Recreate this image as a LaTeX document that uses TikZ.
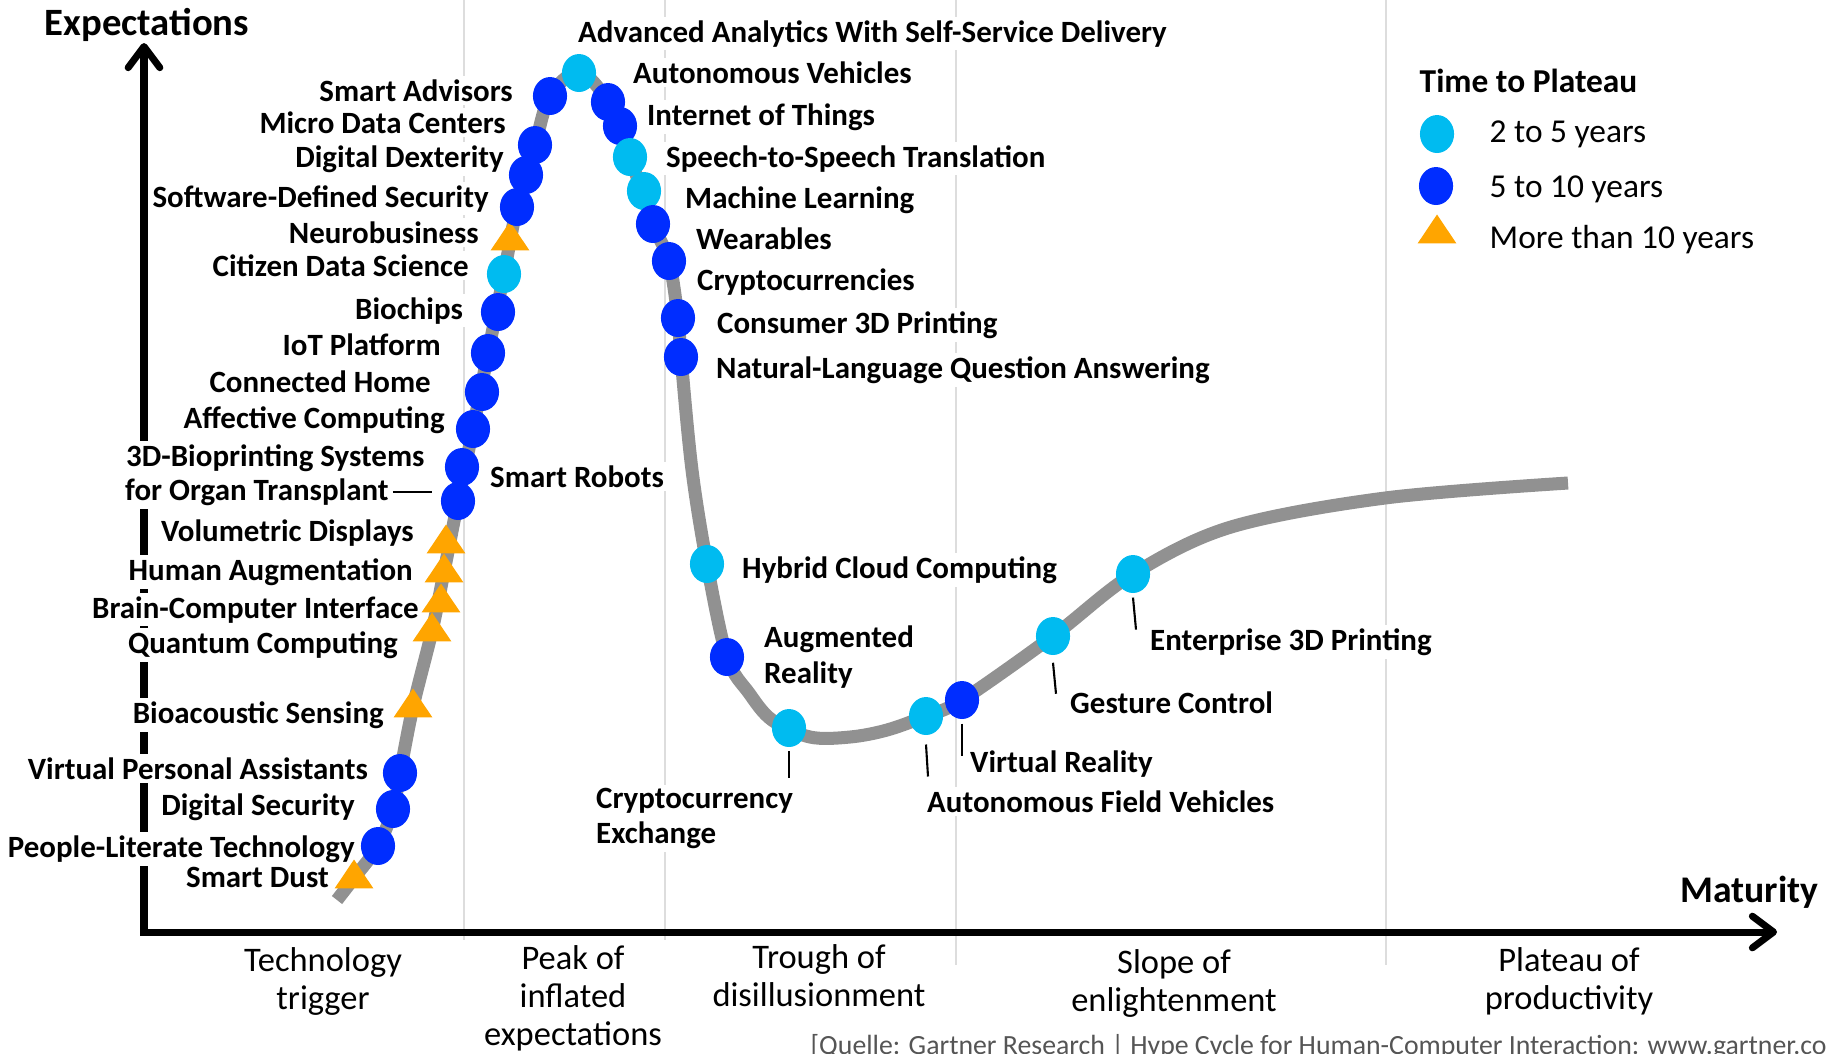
\documentclass[tikz,border=0pt]{standalone}
\usepackage{fontspec}
\setmainfont{Carlito}
\usetikzlibrary{shapes.geometric, arrows.meta}

\definecolor{soonblue}{RGB}{0,187,240}
\definecolor{midblue}{RGB}{0,45,255}
\definecolor{farorange}{RGB}{255,165,0}
\definecolor{curvegray}{RGB}{145,145,145}
\definecolor{gridgray}{RGB}{221,221,221}
\definecolor{notegray}{RGB}{85,85,85}

\begin{document}
\begin{tikzpicture}[
  x=0.01cm, y=-0.01cm,
  dotsoon/.style={ellipse, fill=soonblue, minimum width=9.7pt, minimum height=10.8pt, inner sep=0pt},
  dotmid/.style={ellipse, fill=midblue, minimum width=9.7pt, minimum height=10.8pt, inner sep=0pt},
  trifar/.style={isosceles triangle, isosceles triangle stretches, shape border rotate=90, fill=farorange, minimum width=11pt, minimum height=8.2pt, inner sep=0pt},
  lblL/.style={anchor=base east, fill=white, inner xsep=1pt, inner ysep=1pt, font=\fontsize{8.8}{10}\selectfont\bfseries},
  lblR/.style={anchor=base west, fill=white, inner xsep=1pt, inner ysep=1pt, font=\fontsize{8.8}{10}\selectfont\bfseries},
  lblTwo/.style={anchor=north west, align=left, fill=white, inner sep=1pt, font=\fontsize{8.8}{10}\selectfont\bfseries},
  phase/.style={anchor=north, align=center, inner sep=0pt, font=\fontsize{9.8}{10.8}\selectfont},
  title/.style={inner sep=0pt, font=\fontsize{11}{13}\selectfont\bfseries},
  keytext/.style={anchor=base west, inner sep=0pt, font=\fontsize{9.5}{11}\selectfont},
  hype/.style={draw=curvegray, line width=3.7pt},
  axis/.style={line width=2pt, {Straight Barb[length=6pt, width=9pt, round]}-{Straight Barb[length=6pt, width=9pt, round]}},
  gridline/.style={draw=gridgray, line width=0.7pt},
  tick/.style={line width=0.6pt}
]
\useasboundingbox (0,0) rectangle (1839,1053);

% phase separators
\foreach \gx/\gy in {464/940, 665/940, 956/965, 1386/965}
  \draw[gridline] (\gx,0) -- (\gx,\gy);

% axes
\coordinate (ytop) at (144,43);
\coordinate (orig) at (144,932);
\coordinate (xend) at (1777,932);
\draw[axis] (ytop) -- (orig) -- (xend);

\node[title, anchor=base west] (ylab) at (44,35) {Expectations};
\node[title, anchor=base east, font=\fontsize{10.7}{13}\selectfont\bfseries] (xlab) at (1819,902) {Maturity};

% labels left of the rising slope
\node[lblL] (l-smartadv) at (517,101) {Smart Advisors};
\node[lblL] (l-microdc) at (510,133) {Micro Data Centers};
\node[lblL] (l-digdex) at (508,167) {Digital Dexterity};
\node[lblL] (l-sds) at (493,207) {Software-Defined Security};
\node[lblL] (l-neuro) at (483,243) {Neurobusiness};
\node[lblL] (l-cds) at (473,276) {Citizen Data Science};
\node[lblL] (l-biochips) at (467,319) {Biochips};
\node[lblL] (l-iotplat) at (445,355) {IoT Platform};
\node[lblL] (l-connhome) at (435,392) {Connected Home};
\node[lblL] (l-affcomp) at (449,428) {Affective Computing};
\node[lblR] (l-bioa) at (122,466) {3D-Bioprinting Systems};
\node[lblR] (l-biob) at (121,500) {for Organ Transplant};
\node[lblL] (l-voldisp) at (418,541) {Volumetric Displays};
\node[lblL] (l-humaug) at (417,580) {Human Augmentation};
\node[lblL] (l-bci) at (423,618) {Brain-Computer Interface};
\node[lblL] (l-quantum) at (402,653) {Quantum Computing};
\node[lblL] (l-bioac) at (388,723) {Bioacoustic Sensing};
\node[lblL] (l-vpa) at (372,779) {Virtual Personal Assistants};
\node[lblL] (l-digsec) at (359,815) {Digital Security};
\node[lblL] (l-plt) at (359,857) {People-Literate Technology};
\node[lblL] (l-dust) at (333,887) {Smart Dust};

% labels right of the curve
\node[lblR] (l-advana) at (574,42) {Advanced Analytics With Self-Service Delivery};
\node[lblR] (l-autoveh) at (629,83) {Autonomous Vehicles};
\node[lblR] (l-iot) at (643,125) {Internet of Things};
\node[lblR] (l-s2s) at (662,167) {Speech-to-Speech Translation};
\node[lblR] (l-ml) at (681,208) {Machine Learning};
\node[lblR] (l-wear) at (692,249) {Wearables};
\node[lblR] (l-crypto) at (693,290) {Cryptocurrencies};
\node[lblR] (l-c3d) at (713,333) {Consumer 3D Printing};
\node[lblR] (l-nlqa) at (712,378) {Natural-Language Question Answering};
\node[lblR] (l-robots) at (486,487) {Smart Robots};
\node[lblR] (l-hybrid) at (738,578) {Hybrid Cloud Computing};
\node[lblTwo] (l-augm) at (760,622) {Augmented\\Reality};
\node[lblTwo] (l-cex) at (592,784) {Cryptocurrency\\Exchange};
\node[lblR] (l-afv) at (923,812) {Autonomous Field Vehicles};
\node[lblR] (l-vr) at (966,772) {Virtual Reality};
\node[lblR] (l-gest) at (1066,713) {Gesture Control};
\node[lblR] (l-e3d) at (1146,650) {Enterprise 3D Printing};

% phases under the axis
\node[phase] (p-trigger) at (323,947) {Technology\\trigger};
\node[phase] (p-peak) at (573,945) {Peak of\\inflated\\expectations};
\node[phase] (p-trough) at (819,944) {Trough of\\disillusionment};
\node[phase] (p-slope) at (1174,949) {Slope of\\enlightenment};
\node[phase] (p-plateau) at (1569,947) {Plateau of\\productivity};

\node[anchor=base west, inner sep=0pt, text=notegray, font=\fontsize{7.9}{10}\selectfont] (source) at (810,1054)
  {[Quelle: Gartner Research | Hype Cycle for Human-Computer Interaction: www.gartner.co};

% the hype curve
\draw[hype] plot[smooth, tension=0.55] coordinates {
  (337,900) (354,878) (378,846) (393,809) (400,773) (413,707) (432,631)
  (444,572) (458,501) (473,429) (488,353) (504,274) (517,207) (535,145)
  (550,96) (579,72) (608,102) (630,157) (653,224) (669,261) (678,318)
  (681,357) (692,470) (707,564) (727,657) (749,693) (772,720) (810,737)
  (850,737) (887,730) (926,716) (962,700) (1053,636) (1133,574)
  (1231,527) (1385,498) (1568,483)};

% technologies on the curve
\node[trifar] (m-dust) at (354,878) {};
\node[dotmid] (m-plt) at (378,846) {};
\node[dotmid] (m-digsec) at (393,809) {};
\node[dotmid] (m-vpa) at (400,773) {};
\node[trifar] (m-bioac) at (413,707) {};
\node[trifar] (m-quantum) at (432,631) {};
\node[trifar] (m-bci) at (441,602) {};
\node[trifar] (m-humaug) at (444,572) {};
\node[trifar] (m-voldisp) at (446,543) {};
\node[dotmid] (m-bio) at (458,501) {};
\node[dotmid] (m-robots) at (462,467) {};
\node[dotmid] (m-affcomp) at (473,429) {};
\node[dotmid] (m-connhome) at (482,392) {};
\node[dotmid] (m-iotplat) at (488,353) {};
\node[dotmid] (m-biochips) at (498,312) {};
\node[dotsoon] (m-cds) at (504,274) {};
\node[trifar] (m-neuro) at (510,240) {};
\node[dotmid] (m-sds) at (517,207) {};
\node[dotmid] (m-digdex) at (526,175) {};
\node[dotmid] (m-microdc) at (535,145) {};
\node[dotmid] (m-smartadv) at (550,96) {};
\node[dotsoon] (m-advana) at (579,73) {};
\node[dotmid] (m-autoveh) at (608,102) {};
\node[dotmid] (m-iot) at (620,126) {};
\node[dotsoon] (m-s2s) at (630,157) {};
\node[dotsoon] (m-ml) at (644,191) {};
\node[dotmid] (m-wear) at (653,224) {};
\node[dotmid] (m-crypto) at (669,261) {};
\node[dotmid] (m-c3d) at (678,318) {};
\node[dotmid] (m-nlqa) at (681,357) {};
\node[dotsoon] (m-hybrid) at (707,564) {};
\node[dotmid] (m-augm) at (727,657) {};
\node[dotsoon] (m-cex) at (789,728) {};
\node[dotsoon] (m-afv) at (926,716) {};
\node[dotmid] (m-vr) at (962,700) {};
\node[dotsoon] (m-gest) at (1053,636) {};
\node[dotsoon] (m-e3d) at (1133,574) {};

% leader and ticks
\draw[tick, shorten >=2.4pt] (l-biob.east) -- (l-biob.east -| m-bio.west);
\draw[tick] ([yshift=-1pt]m-cex.south) -- ++(0,27);
\draw[tick] ([yshift=-2.5pt]m-afv.south) -- ++(2,32);
\draw[tick] ([yshift=-1.1pt]m-vr.south) -- ++(0,32);
\draw[tick] ([yshift=-2pt]m-gest.south) -- ++(3,31);
\draw[tick] ([yshift=-1.1pt]m-e3d.south) -- ++(3,32);

% legend
\node[title, anchor=base west, font=\fontsize{9.5}{11}\selectfont\bfseries] (k-title) at (1419,92) {Time to Plateau};
\node[dotsoon] (k-soon) at (1437,134) {};
\node[dotmid] (k-mid) at (1436,186) {};
\node[trifar] (k-far) at (1437,233) {};
\node[keytext] (k-soontext) at (1489,142) {2 to 5 years};
\node[keytext] (k-midtext) at (1489,197) {5 to 10 years};
\node[keytext] (k-fartext) at (1489,248) {More than 10 years};

\end{tikzpicture}
\end{document}
